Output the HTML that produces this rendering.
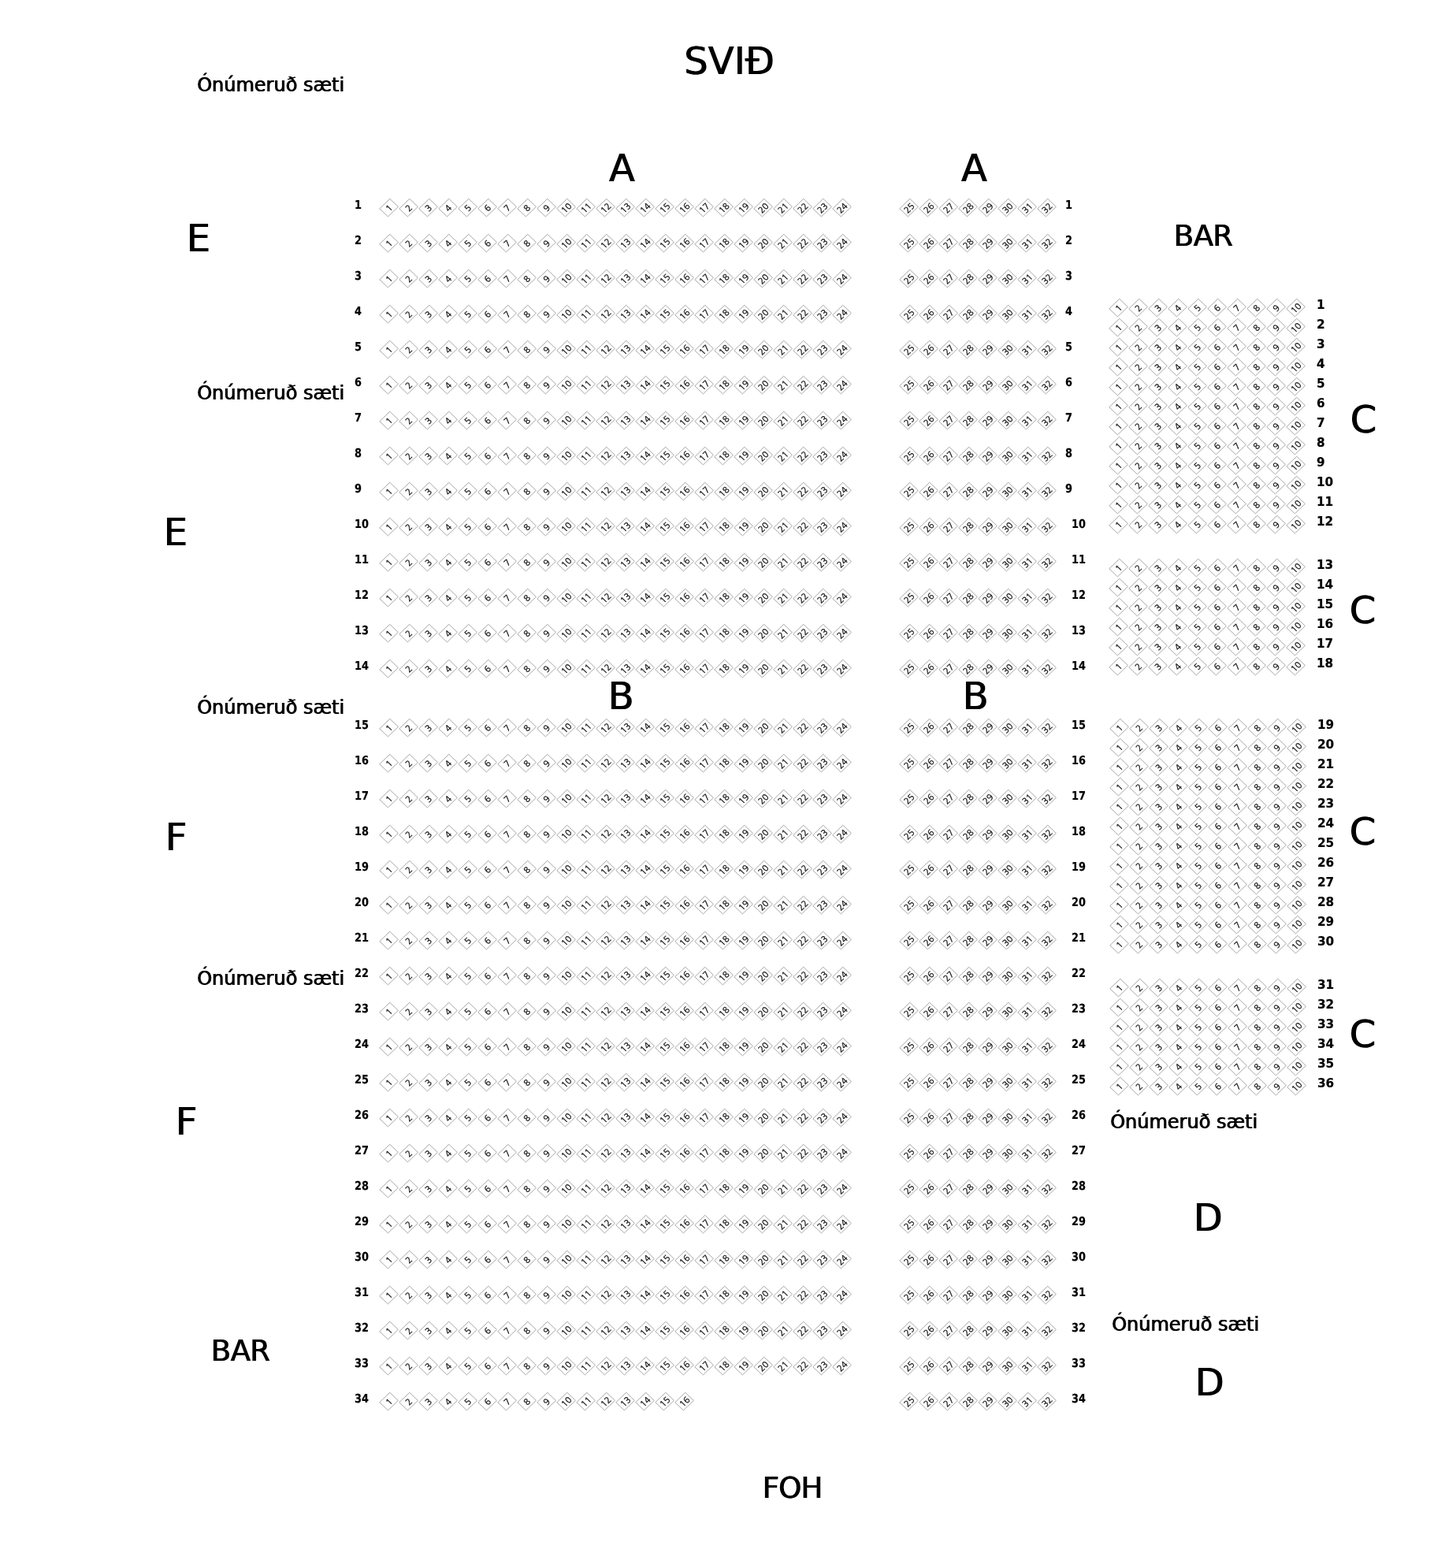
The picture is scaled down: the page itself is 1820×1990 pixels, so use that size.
<!DOCTYPE html>
<html lang="is"><head><meta charset="utf-8"><title>Sætaskipan</title>
<style>
html,body{margin:0;padding:0;background:#fff}
body{width:1820px;height:1990px;position:relative;overflow:hidden;font-family:"DejaVu Sans","Liberation Sans",sans-serif;color:#000}
#w{position:absolute;left:0;top:0;width:1820px;height:1990px;will-change:transform}
.t{position:absolute;white-space:nowrap;line-height:1;text-shadow:1px 0 0 #000;}
.r{position:absolute;left:0;height:0;white-space:nowrap}
.r i{position:absolute;top:0;display:block;box-sizing:border-box;width:23.38px;height:19px;margin:-9.5px 0 0 -11.69px;border:1px solid #999;transform:scale(1.042,1) rotate(-45deg) scale(0.8);font-family:NanumGothic,"Liberation Sans","DejaVu Sans",sans-serif;font-style:normal;font-size:13.12px;line-height:19.5px;text-align:center;color:#222;letter-spacing:0px;-webkit-text-stroke:0.5px #222;text-indent:-0.88px;}
.n{position:absolute;font-weight:bold;line-height:1;white-space:nowrap;-webkit-text-stroke:.2px #000}
.m{font-size:15px;text-rendering:geometricPrecision;transform:scaleX(0.86);transform-origin:0 0}
.c{font-size:16px;transform:scaleX(.95);transform-origin:0 0}
</style></head><body><div id="w">
<div class="t" style="left:867.84px;top:53px;font-size:48px">SVIÐ</div>
<div class="t" style="left:249.65px;top:96px;font-size:24px">Ónúmeruð sæti</div>
<div class="t" style="left:249.65px;top:487px;font-size:24px">Ónúmeruð sæti</div>
<div class="t" style="left:249.65px;top:886px;font-size:24px">Ónúmeruð sæti</div>
<div class="t" style="left:249.65px;top:1230px;font-size:24px">Ónúmeruð sæti</div>
<div class="t" style="left:1408.65px;top:1412px;font-size:24px">Ónúmeruð sæti</div>
<div class="t" style="left:1410.65px;top:1669px;font-size:24px">Ónúmeruð sæti</div>
<div class="t" style="left:772.62px;top:189px;font-size:48px">A</div>
<div class="t" style="left:1219.62px;top:189px;font-size:48px">A</div>
<div class="t" style="left:771.29px;top:859px;font-size:48px">B</div>
<div class="t" style="left:1221.29px;top:859px;font-size:48px">B</div>
<div class="t" style="left:236.29px;top:278px;font-size:48px">E</div>
<div class="t" style="left:207.29px;top:651px;font-size:48px">E</div>
<div class="t" style="left:209.29px;top:1038px;font-size:48px">F</div>
<div class="t" style="left:222.29px;top:1399px;font-size:48px">F</div>
<div class="t" style="left:1489.37px;top:281px;font-size:37px;letter-spacing:-0.6px">BAR</div>
<div class="t" style="left:267.37px;top:1696px;font-size:37px;letter-spacing:-0.6px">BAR</div>
<div class="t" style="left:967.37px;top:1870px;font-size:37px;letter-spacing:-0.9px">FOH</div>
<div class="t" style="left:1713.3px;top:508px;font-size:48px">C</div>
<div class="t" style="left:1712.3px;top:750px;font-size:48px">C</div>
<div class="t" style="left:1712.3px;top:1031px;font-size:48px">C</div>
<div class="t" style="left:1712.3px;top:1288px;font-size:48px">C</div>
<div class="t" style="left:1514.29px;top:1521px;font-size:48px">D</div>
<div class="t" style="left:1516.29px;top:1730px;font-size:48px">D</div>
<div class="n m" style="left:449.5px;top:253px">1</div><div class="r" style="top:263.83px"><i style="left:493.34px">1</i><i style="left:518.34px">2</i><i style="left:543.34px">3</i><i style="left:568.34px">4</i><i style="left:593.34px">5</i><i style="left:618.34px">6</i><i style="left:643.34px">7</i><i style="left:668.34px">8</i><i style="left:693.34px">9</i><i style="left:718.34px">10</i><i style="left:743.34px">11</i><i style="left:768.34px">12</i><i style="left:793.34px">13</i><i style="left:818.34px">14</i><i style="left:843.34px">15</i><i style="left:868.34px">16</i><i style="left:893.34px">17</i><i style="left:918.34px">18</i><i style="left:943.34px">19</i><i style="left:968.34px">20</i><i style="left:993.34px">21</i><i style="left:1018.34px">22</i><i style="left:1043.34px">23</i><i style="left:1068.34px">24</i><i style="left:1153.4px">25</i><i style="left:1178.4px">26</i><i style="left:1203.4px">27</i><i style="left:1228.4px">28</i><i style="left:1253.4px">29</i><i style="left:1278.4px">30</i><i style="left:1303.4px">31</i><i style="left:1328.4px">32</i></div><div class="n m" style="left:1351.6px;top:253px">1</div>
<div class="n m" style="left:449.5px;top:298px">2</div><div class="r" style="top:308.83px"><i style="left:493.34px">1</i><i style="left:518.34px">2</i><i style="left:543.34px">3</i><i style="left:568.34px">4</i><i style="left:593.34px">5</i><i style="left:618.34px">6</i><i style="left:643.34px">7</i><i style="left:668.34px">8</i><i style="left:693.34px">9</i><i style="left:718.34px">10</i><i style="left:743.34px">11</i><i style="left:768.34px">12</i><i style="left:793.34px">13</i><i style="left:818.34px">14</i><i style="left:843.34px">15</i><i style="left:868.34px">16</i><i style="left:893.34px">17</i><i style="left:918.34px">18</i><i style="left:943.34px">19</i><i style="left:968.34px">20</i><i style="left:993.34px">21</i><i style="left:1018.34px">22</i><i style="left:1043.34px">23</i><i style="left:1068.34px">24</i><i style="left:1153.4px">25</i><i style="left:1178.4px">26</i><i style="left:1203.4px">27</i><i style="left:1228.4px">28</i><i style="left:1253.4px">29</i><i style="left:1278.4px">30</i><i style="left:1303.4px">31</i><i style="left:1328.4px">32</i></div><div class="n m" style="left:1351.6px;top:298px">2</div>
<div class="n m" style="left:449.5px;top:343px">3</div><div class="r" style="top:353.83px"><i style="left:493.34px">1</i><i style="left:518.34px">2</i><i style="left:543.34px">3</i><i style="left:568.34px">4</i><i style="left:593.34px">5</i><i style="left:618.34px">6</i><i style="left:643.34px">7</i><i style="left:668.34px">8</i><i style="left:693.34px">9</i><i style="left:718.34px">10</i><i style="left:743.34px">11</i><i style="left:768.34px">12</i><i style="left:793.34px">13</i><i style="left:818.34px">14</i><i style="left:843.34px">15</i><i style="left:868.34px">16</i><i style="left:893.34px">17</i><i style="left:918.34px">18</i><i style="left:943.34px">19</i><i style="left:968.34px">20</i><i style="left:993.34px">21</i><i style="left:1018.34px">22</i><i style="left:1043.34px">23</i><i style="left:1068.34px">24</i><i style="left:1153.4px">25</i><i style="left:1178.4px">26</i><i style="left:1203.4px">27</i><i style="left:1228.4px">28</i><i style="left:1253.4px">29</i><i style="left:1278.4px">30</i><i style="left:1303.4px">31</i><i style="left:1328.4px">32</i></div><div class="n m" style="left:1351.6px;top:343px">3</div>
<div class="n m" style="left:449.5px;top:388px">4</div><div class="r" style="top:398.83px"><i style="left:493.34px">1</i><i style="left:518.34px">2</i><i style="left:543.34px">3</i><i style="left:568.34px">4</i><i style="left:593.34px">5</i><i style="left:618.34px">6</i><i style="left:643.34px">7</i><i style="left:668.34px">8</i><i style="left:693.34px">9</i><i style="left:718.34px">10</i><i style="left:743.34px">11</i><i style="left:768.34px">12</i><i style="left:793.34px">13</i><i style="left:818.34px">14</i><i style="left:843.34px">15</i><i style="left:868.34px">16</i><i style="left:893.34px">17</i><i style="left:918.34px">18</i><i style="left:943.34px">19</i><i style="left:968.34px">20</i><i style="left:993.34px">21</i><i style="left:1018.34px">22</i><i style="left:1043.34px">23</i><i style="left:1068.34px">24</i><i style="left:1153.4px">25</i><i style="left:1178.4px">26</i><i style="left:1203.4px">27</i><i style="left:1228.4px">28</i><i style="left:1253.4px">29</i><i style="left:1278.4px">30</i><i style="left:1303.4px">31</i><i style="left:1328.4px">32</i></div><div class="n m" style="left:1351.6px;top:388px">4</div>
<div class="n m" style="left:449.5px;top:433px">5</div><div class="r" style="top:443.83px"><i style="left:493.34px">1</i><i style="left:518.34px">2</i><i style="left:543.34px">3</i><i style="left:568.34px">4</i><i style="left:593.34px">5</i><i style="left:618.34px">6</i><i style="left:643.34px">7</i><i style="left:668.34px">8</i><i style="left:693.34px">9</i><i style="left:718.34px">10</i><i style="left:743.34px">11</i><i style="left:768.34px">12</i><i style="left:793.34px">13</i><i style="left:818.34px">14</i><i style="left:843.34px">15</i><i style="left:868.34px">16</i><i style="left:893.34px">17</i><i style="left:918.34px">18</i><i style="left:943.34px">19</i><i style="left:968.34px">20</i><i style="left:993.34px">21</i><i style="left:1018.34px">22</i><i style="left:1043.34px">23</i><i style="left:1068.34px">24</i><i style="left:1153.4px">25</i><i style="left:1178.4px">26</i><i style="left:1203.4px">27</i><i style="left:1228.4px">28</i><i style="left:1253.4px">29</i><i style="left:1278.4px">30</i><i style="left:1303.4px">31</i><i style="left:1328.4px">32</i></div><div class="n m" style="left:1351.6px;top:433px">5</div>
<div class="n m" style="left:449.5px;top:478px">6</div><div class="r" style="top:488.83px"><i style="left:493.34px">1</i><i style="left:518.34px">2</i><i style="left:543.34px">3</i><i style="left:568.34px">4</i><i style="left:593.34px">5</i><i style="left:618.34px">6</i><i style="left:643.34px">7</i><i style="left:668.34px">8</i><i style="left:693.34px">9</i><i style="left:718.34px">10</i><i style="left:743.34px">11</i><i style="left:768.34px">12</i><i style="left:793.34px">13</i><i style="left:818.34px">14</i><i style="left:843.34px">15</i><i style="left:868.34px">16</i><i style="left:893.34px">17</i><i style="left:918.34px">18</i><i style="left:943.34px">19</i><i style="left:968.34px">20</i><i style="left:993.34px">21</i><i style="left:1018.34px">22</i><i style="left:1043.34px">23</i><i style="left:1068.34px">24</i><i style="left:1153.4px">25</i><i style="left:1178.4px">26</i><i style="left:1203.4px">27</i><i style="left:1228.4px">28</i><i style="left:1253.4px">29</i><i style="left:1278.4px">30</i><i style="left:1303.4px">31</i><i style="left:1328.4px">32</i></div><div class="n m" style="left:1351.6px;top:478px">6</div>
<div class="n m" style="left:449.5px;top:523px">7</div><div class="r" style="top:533.83px"><i style="left:493.34px">1</i><i style="left:518.34px">2</i><i style="left:543.34px">3</i><i style="left:568.34px">4</i><i style="left:593.34px">5</i><i style="left:618.34px">6</i><i style="left:643.34px">7</i><i style="left:668.34px">8</i><i style="left:693.34px">9</i><i style="left:718.34px">10</i><i style="left:743.34px">11</i><i style="left:768.34px">12</i><i style="left:793.34px">13</i><i style="left:818.34px">14</i><i style="left:843.34px">15</i><i style="left:868.34px">16</i><i style="left:893.34px">17</i><i style="left:918.34px">18</i><i style="left:943.34px">19</i><i style="left:968.34px">20</i><i style="left:993.34px">21</i><i style="left:1018.34px">22</i><i style="left:1043.34px">23</i><i style="left:1068.34px">24</i><i style="left:1153.4px">25</i><i style="left:1178.4px">26</i><i style="left:1203.4px">27</i><i style="left:1228.4px">28</i><i style="left:1253.4px">29</i><i style="left:1278.4px">30</i><i style="left:1303.4px">31</i><i style="left:1328.4px">32</i></div><div class="n m" style="left:1351.6px;top:523px">7</div>
<div class="n m" style="left:449.5px;top:568px">8</div><div class="r" style="top:578.83px"><i style="left:493.34px">1</i><i style="left:518.34px">2</i><i style="left:543.34px">3</i><i style="left:568.34px">4</i><i style="left:593.34px">5</i><i style="left:618.34px">6</i><i style="left:643.34px">7</i><i style="left:668.34px">8</i><i style="left:693.34px">9</i><i style="left:718.34px">10</i><i style="left:743.34px">11</i><i style="left:768.34px">12</i><i style="left:793.34px">13</i><i style="left:818.34px">14</i><i style="left:843.34px">15</i><i style="left:868.34px">16</i><i style="left:893.34px">17</i><i style="left:918.34px">18</i><i style="left:943.34px">19</i><i style="left:968.34px">20</i><i style="left:993.34px">21</i><i style="left:1018.34px">22</i><i style="left:1043.34px">23</i><i style="left:1068.34px">24</i><i style="left:1153.4px">25</i><i style="left:1178.4px">26</i><i style="left:1203.4px">27</i><i style="left:1228.4px">28</i><i style="left:1253.4px">29</i><i style="left:1278.4px">30</i><i style="left:1303.4px">31</i><i style="left:1328.4px">32</i></div><div class="n m" style="left:1351.6px;top:568px">8</div>
<div class="n m" style="left:449.5px;top:613px">9</div><div class="r" style="top:623.83px"><i style="left:493.34px">1</i><i style="left:518.34px">2</i><i style="left:543.34px">3</i><i style="left:568.34px">4</i><i style="left:593.34px">5</i><i style="left:618.34px">6</i><i style="left:643.34px">7</i><i style="left:668.34px">8</i><i style="left:693.34px">9</i><i style="left:718.34px">10</i><i style="left:743.34px">11</i><i style="left:768.34px">12</i><i style="left:793.34px">13</i><i style="left:818.34px">14</i><i style="left:843.34px">15</i><i style="left:868.34px">16</i><i style="left:893.34px">17</i><i style="left:918.34px">18</i><i style="left:943.34px">19</i><i style="left:968.34px">20</i><i style="left:993.34px">21</i><i style="left:1018.34px">22</i><i style="left:1043.34px">23</i><i style="left:1068.34px">24</i><i style="left:1153.4px">25</i><i style="left:1178.4px">26</i><i style="left:1203.4px">27</i><i style="left:1228.4px">28</i><i style="left:1253.4px">29</i><i style="left:1278.4px">30</i><i style="left:1303.4px">31</i><i style="left:1328.4px">32</i></div><div class="n m" style="left:1351.6px;top:613px">9</div>
<div class="n m" style="left:449.5px;top:658px">10</div><div class="r" style="top:668.83px"><i style="left:493.34px">1</i><i style="left:518.34px">2</i><i style="left:543.34px">3</i><i style="left:568.34px">4</i><i style="left:593.34px">5</i><i style="left:618.34px">6</i><i style="left:643.34px">7</i><i style="left:668.34px">8</i><i style="left:693.34px">9</i><i style="left:718.34px">10</i><i style="left:743.34px">11</i><i style="left:768.34px">12</i><i style="left:793.34px">13</i><i style="left:818.34px">14</i><i style="left:843.34px">15</i><i style="left:868.34px">16</i><i style="left:893.34px">17</i><i style="left:918.34px">18</i><i style="left:943.34px">19</i><i style="left:968.34px">20</i><i style="left:993.34px">21</i><i style="left:1018.34px">22</i><i style="left:1043.34px">23</i><i style="left:1068.34px">24</i><i style="left:1153.4px">25</i><i style="left:1178.4px">26</i><i style="left:1203.4px">27</i><i style="left:1228.4px">28</i><i style="left:1253.4px">29</i><i style="left:1278.4px">30</i><i style="left:1303.4px">31</i><i style="left:1328.4px">32</i></div><div class="n m" style="left:1360px;top:658px">10</div>
<div class="n m" style="left:449.5px;top:703px">11</div><div class="r" style="top:713.83px"><i style="left:493.34px">1</i><i style="left:518.34px">2</i><i style="left:543.34px">3</i><i style="left:568.34px">4</i><i style="left:593.34px">5</i><i style="left:618.34px">6</i><i style="left:643.34px">7</i><i style="left:668.34px">8</i><i style="left:693.34px">9</i><i style="left:718.34px">10</i><i style="left:743.34px">11</i><i style="left:768.34px">12</i><i style="left:793.34px">13</i><i style="left:818.34px">14</i><i style="left:843.34px">15</i><i style="left:868.34px">16</i><i style="left:893.34px">17</i><i style="left:918.34px">18</i><i style="left:943.34px">19</i><i style="left:968.34px">20</i><i style="left:993.34px">21</i><i style="left:1018.34px">22</i><i style="left:1043.34px">23</i><i style="left:1068.34px">24</i><i style="left:1153.4px">25</i><i style="left:1178.4px">26</i><i style="left:1203.4px">27</i><i style="left:1228.4px">28</i><i style="left:1253.4px">29</i><i style="left:1278.4px">30</i><i style="left:1303.4px">31</i><i style="left:1328.4px">32</i></div><div class="n m" style="left:1360px;top:703px">11</div>
<div class="n m" style="left:449.5px;top:748px">12</div><div class="r" style="top:758.83px"><i style="left:493.34px">1</i><i style="left:518.34px">2</i><i style="left:543.34px">3</i><i style="left:568.34px">4</i><i style="left:593.34px">5</i><i style="left:618.34px">6</i><i style="left:643.34px">7</i><i style="left:668.34px">8</i><i style="left:693.34px">9</i><i style="left:718.34px">10</i><i style="left:743.34px">11</i><i style="left:768.34px">12</i><i style="left:793.34px">13</i><i style="left:818.34px">14</i><i style="left:843.34px">15</i><i style="left:868.34px">16</i><i style="left:893.34px">17</i><i style="left:918.34px">18</i><i style="left:943.34px">19</i><i style="left:968.34px">20</i><i style="left:993.34px">21</i><i style="left:1018.34px">22</i><i style="left:1043.34px">23</i><i style="left:1068.34px">24</i><i style="left:1153.4px">25</i><i style="left:1178.4px">26</i><i style="left:1203.4px">27</i><i style="left:1228.4px">28</i><i style="left:1253.4px">29</i><i style="left:1278.4px">30</i><i style="left:1303.4px">31</i><i style="left:1328.4px">32</i></div><div class="n m" style="left:1360px;top:748px">12</div>
<div class="n m" style="left:449.5px;top:793px">13</div><div class="r" style="top:803.83px"><i style="left:493.34px">1</i><i style="left:518.34px">2</i><i style="left:543.34px">3</i><i style="left:568.34px">4</i><i style="left:593.34px">5</i><i style="left:618.34px">6</i><i style="left:643.34px">7</i><i style="left:668.34px">8</i><i style="left:693.34px">9</i><i style="left:718.34px">10</i><i style="left:743.34px">11</i><i style="left:768.34px">12</i><i style="left:793.34px">13</i><i style="left:818.34px">14</i><i style="left:843.34px">15</i><i style="left:868.34px">16</i><i style="left:893.34px">17</i><i style="left:918.34px">18</i><i style="left:943.34px">19</i><i style="left:968.34px">20</i><i style="left:993.34px">21</i><i style="left:1018.34px">22</i><i style="left:1043.34px">23</i><i style="left:1068.34px">24</i><i style="left:1153.4px">25</i><i style="left:1178.4px">26</i><i style="left:1203.4px">27</i><i style="left:1228.4px">28</i><i style="left:1253.4px">29</i><i style="left:1278.4px">30</i><i style="left:1303.4px">31</i><i style="left:1328.4px">32</i></div><div class="n m" style="left:1360px;top:793px">13</div>
<div class="n m" style="left:449.5px;top:838px">14</div><div class="r" style="top:848.83px"><i style="left:493.34px">1</i><i style="left:518.34px">2</i><i style="left:543.34px">3</i><i style="left:568.34px">4</i><i style="left:593.34px">5</i><i style="left:618.34px">6</i><i style="left:643.34px">7</i><i style="left:668.34px">8</i><i style="left:693.34px">9</i><i style="left:718.34px">10</i><i style="left:743.34px">11</i><i style="left:768.34px">12</i><i style="left:793.34px">13</i><i style="left:818.34px">14</i><i style="left:843.34px">15</i><i style="left:868.34px">16</i><i style="left:893.34px">17</i><i style="left:918.34px">18</i><i style="left:943.34px">19</i><i style="left:968.34px">20</i><i style="left:993.34px">21</i><i style="left:1018.34px">22</i><i style="left:1043.34px">23</i><i style="left:1068.34px">24</i><i style="left:1153.4px">25</i><i style="left:1178.4px">26</i><i style="left:1203.4px">27</i><i style="left:1228.4px">28</i><i style="left:1253.4px">29</i><i style="left:1278.4px">30</i><i style="left:1303.4px">31</i><i style="left:1328.4px">32</i></div><div class="n m" style="left:1360px;top:838px">14</div>
<div class="n m" style="left:449.5px;top:913px">15</div><div class="r" style="top:923.83px"><i style="left:493.34px">1</i><i style="left:518.34px">2</i><i style="left:543.34px">3</i><i style="left:568.34px">4</i><i style="left:593.34px">5</i><i style="left:618.34px">6</i><i style="left:643.34px">7</i><i style="left:668.34px">8</i><i style="left:693.34px">9</i><i style="left:718.34px">10</i><i style="left:743.34px">11</i><i style="left:768.34px">12</i><i style="left:793.34px">13</i><i style="left:818.34px">14</i><i style="left:843.34px">15</i><i style="left:868.34px">16</i><i style="left:893.34px">17</i><i style="left:918.34px">18</i><i style="left:943.34px">19</i><i style="left:968.34px">20</i><i style="left:993.34px">21</i><i style="left:1018.34px">22</i><i style="left:1043.34px">23</i><i style="left:1068.34px">24</i><i style="left:1153.4px">25</i><i style="left:1178.4px">26</i><i style="left:1203.4px">27</i><i style="left:1228.4px">28</i><i style="left:1253.4px">29</i><i style="left:1278.4px">30</i><i style="left:1303.4px">31</i><i style="left:1328.4px">32</i></div><div class="n m" style="left:1360px;top:913px">15</div>
<div class="n m" style="left:449.5px;top:958px">16</div><div class="r" style="top:968.83px"><i style="left:493.34px">1</i><i style="left:518.34px">2</i><i style="left:543.34px">3</i><i style="left:568.34px">4</i><i style="left:593.34px">5</i><i style="left:618.34px">6</i><i style="left:643.34px">7</i><i style="left:668.34px">8</i><i style="left:693.34px">9</i><i style="left:718.34px">10</i><i style="left:743.34px">11</i><i style="left:768.34px">12</i><i style="left:793.34px">13</i><i style="left:818.34px">14</i><i style="left:843.34px">15</i><i style="left:868.34px">16</i><i style="left:893.34px">17</i><i style="left:918.34px">18</i><i style="left:943.34px">19</i><i style="left:968.34px">20</i><i style="left:993.34px">21</i><i style="left:1018.34px">22</i><i style="left:1043.34px">23</i><i style="left:1068.34px">24</i><i style="left:1153.4px">25</i><i style="left:1178.4px">26</i><i style="left:1203.4px">27</i><i style="left:1228.4px">28</i><i style="left:1253.4px">29</i><i style="left:1278.4px">30</i><i style="left:1303.4px">31</i><i style="left:1328.4px">32</i></div><div class="n m" style="left:1360px;top:958px">16</div>
<div class="n m" style="left:449.5px;top:1003px">17</div><div class="r" style="top:1013.83px"><i style="left:493.34px">1</i><i style="left:518.34px">2</i><i style="left:543.34px">3</i><i style="left:568.34px">4</i><i style="left:593.34px">5</i><i style="left:618.34px">6</i><i style="left:643.34px">7</i><i style="left:668.34px">8</i><i style="left:693.34px">9</i><i style="left:718.34px">10</i><i style="left:743.34px">11</i><i style="left:768.34px">12</i><i style="left:793.34px">13</i><i style="left:818.34px">14</i><i style="left:843.34px">15</i><i style="left:868.34px">16</i><i style="left:893.34px">17</i><i style="left:918.34px">18</i><i style="left:943.34px">19</i><i style="left:968.34px">20</i><i style="left:993.34px">21</i><i style="left:1018.34px">22</i><i style="left:1043.34px">23</i><i style="left:1068.34px">24</i><i style="left:1153.4px">25</i><i style="left:1178.4px">26</i><i style="left:1203.4px">27</i><i style="left:1228.4px">28</i><i style="left:1253.4px">29</i><i style="left:1278.4px">30</i><i style="left:1303.4px">31</i><i style="left:1328.4px">32</i></div><div class="n m" style="left:1360px;top:1003px">17</div>
<div class="n m" style="left:449.5px;top:1048px">18</div><div class="r" style="top:1058.83px"><i style="left:493.34px">1</i><i style="left:518.34px">2</i><i style="left:543.34px">3</i><i style="left:568.34px">4</i><i style="left:593.34px">5</i><i style="left:618.34px">6</i><i style="left:643.34px">7</i><i style="left:668.34px">8</i><i style="left:693.34px">9</i><i style="left:718.34px">10</i><i style="left:743.34px">11</i><i style="left:768.34px">12</i><i style="left:793.34px">13</i><i style="left:818.34px">14</i><i style="left:843.34px">15</i><i style="left:868.34px">16</i><i style="left:893.34px">17</i><i style="left:918.34px">18</i><i style="left:943.34px">19</i><i style="left:968.34px">20</i><i style="left:993.34px">21</i><i style="left:1018.34px">22</i><i style="left:1043.34px">23</i><i style="left:1068.34px">24</i><i style="left:1153.4px">25</i><i style="left:1178.4px">26</i><i style="left:1203.4px">27</i><i style="left:1228.4px">28</i><i style="left:1253.4px">29</i><i style="left:1278.4px">30</i><i style="left:1303.4px">31</i><i style="left:1328.4px">32</i></div><div class="n m" style="left:1360px;top:1048px">18</div>
<div class="n m" style="left:449.5px;top:1093px">19</div><div class="r" style="top:1103.83px"><i style="left:493.34px">1</i><i style="left:518.34px">2</i><i style="left:543.34px">3</i><i style="left:568.34px">4</i><i style="left:593.34px">5</i><i style="left:618.34px">6</i><i style="left:643.34px">7</i><i style="left:668.34px">8</i><i style="left:693.34px">9</i><i style="left:718.34px">10</i><i style="left:743.34px">11</i><i style="left:768.34px">12</i><i style="left:793.34px">13</i><i style="left:818.34px">14</i><i style="left:843.34px">15</i><i style="left:868.34px">16</i><i style="left:893.34px">17</i><i style="left:918.34px">18</i><i style="left:943.34px">19</i><i style="left:968.34px">20</i><i style="left:993.34px">21</i><i style="left:1018.34px">22</i><i style="left:1043.34px">23</i><i style="left:1068.34px">24</i><i style="left:1153.4px">25</i><i style="left:1178.4px">26</i><i style="left:1203.4px">27</i><i style="left:1228.4px">28</i><i style="left:1253.4px">29</i><i style="left:1278.4px">30</i><i style="left:1303.4px">31</i><i style="left:1328.4px">32</i></div><div class="n m" style="left:1360px;top:1093px">19</div>
<div class="n m" style="left:449.5px;top:1138px">20</div><div class="r" style="top:1148.83px"><i style="left:493.34px">1</i><i style="left:518.34px">2</i><i style="left:543.34px">3</i><i style="left:568.34px">4</i><i style="left:593.34px">5</i><i style="left:618.34px">6</i><i style="left:643.34px">7</i><i style="left:668.34px">8</i><i style="left:693.34px">9</i><i style="left:718.34px">10</i><i style="left:743.34px">11</i><i style="left:768.34px">12</i><i style="left:793.34px">13</i><i style="left:818.34px">14</i><i style="left:843.34px">15</i><i style="left:868.34px">16</i><i style="left:893.34px">17</i><i style="left:918.34px">18</i><i style="left:943.34px">19</i><i style="left:968.34px">20</i><i style="left:993.34px">21</i><i style="left:1018.34px">22</i><i style="left:1043.34px">23</i><i style="left:1068.34px">24</i><i style="left:1153.4px">25</i><i style="left:1178.4px">26</i><i style="left:1203.4px">27</i><i style="left:1228.4px">28</i><i style="left:1253.4px">29</i><i style="left:1278.4px">30</i><i style="left:1303.4px">31</i><i style="left:1328.4px">32</i></div><div class="n m" style="left:1360px;top:1138px">20</div>
<div class="n m" style="left:449.5px;top:1183px">21</div><div class="r" style="top:1193.83px"><i style="left:493.34px">1</i><i style="left:518.34px">2</i><i style="left:543.34px">3</i><i style="left:568.34px">4</i><i style="left:593.34px">5</i><i style="left:618.34px">6</i><i style="left:643.34px">7</i><i style="left:668.34px">8</i><i style="left:693.34px">9</i><i style="left:718.34px">10</i><i style="left:743.34px">11</i><i style="left:768.34px">12</i><i style="left:793.34px">13</i><i style="left:818.34px">14</i><i style="left:843.34px">15</i><i style="left:868.34px">16</i><i style="left:893.34px">17</i><i style="left:918.34px">18</i><i style="left:943.34px">19</i><i style="left:968.34px">20</i><i style="left:993.34px">21</i><i style="left:1018.34px">22</i><i style="left:1043.34px">23</i><i style="left:1068.34px">24</i><i style="left:1153.4px">25</i><i style="left:1178.4px">26</i><i style="left:1203.4px">27</i><i style="left:1228.4px">28</i><i style="left:1253.4px">29</i><i style="left:1278.4px">30</i><i style="left:1303.4px">31</i><i style="left:1328.4px">32</i></div><div class="n m" style="left:1360px;top:1183px">21</div>
<div class="n m" style="left:449.5px;top:1228px">22</div><div class="r" style="top:1238.83px"><i style="left:493.34px">1</i><i style="left:518.34px">2</i><i style="left:543.34px">3</i><i style="left:568.34px">4</i><i style="left:593.34px">5</i><i style="left:618.34px">6</i><i style="left:643.34px">7</i><i style="left:668.34px">8</i><i style="left:693.34px">9</i><i style="left:718.34px">10</i><i style="left:743.34px">11</i><i style="left:768.34px">12</i><i style="left:793.34px">13</i><i style="left:818.34px">14</i><i style="left:843.34px">15</i><i style="left:868.34px">16</i><i style="left:893.34px">17</i><i style="left:918.34px">18</i><i style="left:943.34px">19</i><i style="left:968.34px">20</i><i style="left:993.34px">21</i><i style="left:1018.34px">22</i><i style="left:1043.34px">23</i><i style="left:1068.34px">24</i><i style="left:1153.4px">25</i><i style="left:1178.4px">26</i><i style="left:1203.4px">27</i><i style="left:1228.4px">28</i><i style="left:1253.4px">29</i><i style="left:1278.4px">30</i><i style="left:1303.4px">31</i><i style="left:1328.4px">32</i></div><div class="n m" style="left:1360px;top:1228px">22</div>
<div class="n m" style="left:449.5px;top:1273px">23</div><div class="r" style="top:1283.83px"><i style="left:493.34px">1</i><i style="left:518.34px">2</i><i style="left:543.34px">3</i><i style="left:568.34px">4</i><i style="left:593.34px">5</i><i style="left:618.34px">6</i><i style="left:643.34px">7</i><i style="left:668.34px">8</i><i style="left:693.34px">9</i><i style="left:718.34px">10</i><i style="left:743.34px">11</i><i style="left:768.34px">12</i><i style="left:793.34px">13</i><i style="left:818.34px">14</i><i style="left:843.34px">15</i><i style="left:868.34px">16</i><i style="left:893.34px">17</i><i style="left:918.34px">18</i><i style="left:943.34px">19</i><i style="left:968.34px">20</i><i style="left:993.34px">21</i><i style="left:1018.34px">22</i><i style="left:1043.34px">23</i><i style="left:1068.34px">24</i><i style="left:1153.4px">25</i><i style="left:1178.4px">26</i><i style="left:1203.4px">27</i><i style="left:1228.4px">28</i><i style="left:1253.4px">29</i><i style="left:1278.4px">30</i><i style="left:1303.4px">31</i><i style="left:1328.4px">32</i></div><div class="n m" style="left:1360px;top:1273px">23</div>
<div class="n m" style="left:449.5px;top:1318px">24</div><div class="r" style="top:1328.83px"><i style="left:493.34px">1</i><i style="left:518.34px">2</i><i style="left:543.34px">3</i><i style="left:568.34px">4</i><i style="left:593.34px">5</i><i style="left:618.34px">6</i><i style="left:643.34px">7</i><i style="left:668.34px">8</i><i style="left:693.34px">9</i><i style="left:718.34px">10</i><i style="left:743.34px">11</i><i style="left:768.34px">12</i><i style="left:793.34px">13</i><i style="left:818.34px">14</i><i style="left:843.34px">15</i><i style="left:868.34px">16</i><i style="left:893.34px">17</i><i style="left:918.34px">18</i><i style="left:943.34px">19</i><i style="left:968.34px">20</i><i style="left:993.34px">21</i><i style="left:1018.34px">22</i><i style="left:1043.34px">23</i><i style="left:1068.34px">24</i><i style="left:1153.4px">25</i><i style="left:1178.4px">26</i><i style="left:1203.4px">27</i><i style="left:1228.4px">28</i><i style="left:1253.4px">29</i><i style="left:1278.4px">30</i><i style="left:1303.4px">31</i><i style="left:1328.4px">32</i></div><div class="n m" style="left:1360px;top:1318px">24</div>
<div class="n m" style="left:449.5px;top:1363px">25</div><div class="r" style="top:1373.83px"><i style="left:493.34px">1</i><i style="left:518.34px">2</i><i style="left:543.34px">3</i><i style="left:568.34px">4</i><i style="left:593.34px">5</i><i style="left:618.34px">6</i><i style="left:643.34px">7</i><i style="left:668.34px">8</i><i style="left:693.34px">9</i><i style="left:718.34px">10</i><i style="left:743.34px">11</i><i style="left:768.34px">12</i><i style="left:793.34px">13</i><i style="left:818.34px">14</i><i style="left:843.34px">15</i><i style="left:868.34px">16</i><i style="left:893.34px">17</i><i style="left:918.34px">18</i><i style="left:943.34px">19</i><i style="left:968.34px">20</i><i style="left:993.34px">21</i><i style="left:1018.34px">22</i><i style="left:1043.34px">23</i><i style="left:1068.34px">24</i><i style="left:1153.4px">25</i><i style="left:1178.4px">26</i><i style="left:1203.4px">27</i><i style="left:1228.4px">28</i><i style="left:1253.4px">29</i><i style="left:1278.4px">30</i><i style="left:1303.4px">31</i><i style="left:1328.4px">32</i></div><div class="n m" style="left:1360px;top:1363px">25</div>
<div class="n m" style="left:449.5px;top:1408px">26</div><div class="r" style="top:1418.83px"><i style="left:493.34px">1</i><i style="left:518.34px">2</i><i style="left:543.34px">3</i><i style="left:568.34px">4</i><i style="left:593.34px">5</i><i style="left:618.34px">6</i><i style="left:643.34px">7</i><i style="left:668.34px">8</i><i style="left:693.34px">9</i><i style="left:718.34px">10</i><i style="left:743.34px">11</i><i style="left:768.34px">12</i><i style="left:793.34px">13</i><i style="left:818.34px">14</i><i style="left:843.34px">15</i><i style="left:868.34px">16</i><i style="left:893.34px">17</i><i style="left:918.34px">18</i><i style="left:943.34px">19</i><i style="left:968.34px">20</i><i style="left:993.34px">21</i><i style="left:1018.34px">22</i><i style="left:1043.34px">23</i><i style="left:1068.34px">24</i><i style="left:1153.4px">25</i><i style="left:1178.4px">26</i><i style="left:1203.4px">27</i><i style="left:1228.4px">28</i><i style="left:1253.4px">29</i><i style="left:1278.4px">30</i><i style="left:1303.4px">31</i><i style="left:1328.4px">32</i></div><div class="n m" style="left:1360px;top:1408px">26</div>
<div class="n m" style="left:449.5px;top:1453px">27</div><div class="r" style="top:1463.83px"><i style="left:493.34px">1</i><i style="left:518.34px">2</i><i style="left:543.34px">3</i><i style="left:568.34px">4</i><i style="left:593.34px">5</i><i style="left:618.34px">6</i><i style="left:643.34px">7</i><i style="left:668.34px">8</i><i style="left:693.34px">9</i><i style="left:718.34px">10</i><i style="left:743.34px">11</i><i style="left:768.34px">12</i><i style="left:793.34px">13</i><i style="left:818.34px">14</i><i style="left:843.34px">15</i><i style="left:868.34px">16</i><i style="left:893.34px">17</i><i style="left:918.34px">18</i><i style="left:943.34px">19</i><i style="left:968.34px">20</i><i style="left:993.34px">21</i><i style="left:1018.34px">22</i><i style="left:1043.34px">23</i><i style="left:1068.34px">24</i><i style="left:1153.4px">25</i><i style="left:1178.4px">26</i><i style="left:1203.4px">27</i><i style="left:1228.4px">28</i><i style="left:1253.4px">29</i><i style="left:1278.4px">30</i><i style="left:1303.4px">31</i><i style="left:1328.4px">32</i></div><div class="n m" style="left:1360px;top:1453px">27</div>
<div class="n m" style="left:449.5px;top:1498px">28</div><div class="r" style="top:1508.83px"><i style="left:493.34px">1</i><i style="left:518.34px">2</i><i style="left:543.34px">3</i><i style="left:568.34px">4</i><i style="left:593.34px">5</i><i style="left:618.34px">6</i><i style="left:643.34px">7</i><i style="left:668.34px">8</i><i style="left:693.34px">9</i><i style="left:718.34px">10</i><i style="left:743.34px">11</i><i style="left:768.34px">12</i><i style="left:793.34px">13</i><i style="left:818.34px">14</i><i style="left:843.34px">15</i><i style="left:868.34px">16</i><i style="left:893.34px">17</i><i style="left:918.34px">18</i><i style="left:943.34px">19</i><i style="left:968.34px">20</i><i style="left:993.34px">21</i><i style="left:1018.34px">22</i><i style="left:1043.34px">23</i><i style="left:1068.34px">24</i><i style="left:1153.4px">25</i><i style="left:1178.4px">26</i><i style="left:1203.4px">27</i><i style="left:1228.4px">28</i><i style="left:1253.4px">29</i><i style="left:1278.4px">30</i><i style="left:1303.4px">31</i><i style="left:1328.4px">32</i></div><div class="n m" style="left:1360px;top:1498px">28</div>
<div class="n m" style="left:449.5px;top:1543px">29</div><div class="r" style="top:1553.83px"><i style="left:493.34px">1</i><i style="left:518.34px">2</i><i style="left:543.34px">3</i><i style="left:568.34px">4</i><i style="left:593.34px">5</i><i style="left:618.34px">6</i><i style="left:643.34px">7</i><i style="left:668.34px">8</i><i style="left:693.34px">9</i><i style="left:718.34px">10</i><i style="left:743.34px">11</i><i style="left:768.34px">12</i><i style="left:793.34px">13</i><i style="left:818.34px">14</i><i style="left:843.34px">15</i><i style="left:868.34px">16</i><i style="left:893.34px">17</i><i style="left:918.34px">18</i><i style="left:943.34px">19</i><i style="left:968.34px">20</i><i style="left:993.34px">21</i><i style="left:1018.34px">22</i><i style="left:1043.34px">23</i><i style="left:1068.34px">24</i><i style="left:1153.4px">25</i><i style="left:1178.4px">26</i><i style="left:1203.4px">27</i><i style="left:1228.4px">28</i><i style="left:1253.4px">29</i><i style="left:1278.4px">30</i><i style="left:1303.4px">31</i><i style="left:1328.4px">32</i></div><div class="n m" style="left:1360px;top:1543px">29</div>
<div class="n m" style="left:449.5px;top:1588px">30</div><div class="r" style="top:1598.83px"><i style="left:493.34px">1</i><i style="left:518.34px">2</i><i style="left:543.34px">3</i><i style="left:568.34px">4</i><i style="left:593.34px">5</i><i style="left:618.34px">6</i><i style="left:643.34px">7</i><i style="left:668.34px">8</i><i style="left:693.34px">9</i><i style="left:718.34px">10</i><i style="left:743.34px">11</i><i style="left:768.34px">12</i><i style="left:793.34px">13</i><i style="left:818.34px">14</i><i style="left:843.34px">15</i><i style="left:868.34px">16</i><i style="left:893.34px">17</i><i style="left:918.34px">18</i><i style="left:943.34px">19</i><i style="left:968.34px">20</i><i style="left:993.34px">21</i><i style="left:1018.34px">22</i><i style="left:1043.34px">23</i><i style="left:1068.34px">24</i><i style="left:1153.4px">25</i><i style="left:1178.4px">26</i><i style="left:1203.4px">27</i><i style="left:1228.4px">28</i><i style="left:1253.4px">29</i><i style="left:1278.4px">30</i><i style="left:1303.4px">31</i><i style="left:1328.4px">32</i></div><div class="n m" style="left:1360px;top:1588px">30</div>
<div class="n m" style="left:449.5px;top:1633px">31</div><div class="r" style="top:1643.83px"><i style="left:493.34px">1</i><i style="left:518.34px">2</i><i style="left:543.34px">3</i><i style="left:568.34px">4</i><i style="left:593.34px">5</i><i style="left:618.34px">6</i><i style="left:643.34px">7</i><i style="left:668.34px">8</i><i style="left:693.34px">9</i><i style="left:718.34px">10</i><i style="left:743.34px">11</i><i style="left:768.34px">12</i><i style="left:793.34px">13</i><i style="left:818.34px">14</i><i style="left:843.34px">15</i><i style="left:868.34px">16</i><i style="left:893.34px">17</i><i style="left:918.34px">18</i><i style="left:943.34px">19</i><i style="left:968.34px">20</i><i style="left:993.34px">21</i><i style="left:1018.34px">22</i><i style="left:1043.34px">23</i><i style="left:1068.34px">24</i><i style="left:1153.4px">25</i><i style="left:1178.4px">26</i><i style="left:1203.4px">27</i><i style="left:1228.4px">28</i><i style="left:1253.4px">29</i><i style="left:1278.4px">30</i><i style="left:1303.4px">31</i><i style="left:1328.4px">32</i></div><div class="n m" style="left:1360px;top:1633px">31</div>
<div class="n m" style="left:449.5px;top:1678px">32</div><div class="r" style="top:1688.83px"><i style="left:493.34px">1</i><i style="left:518.34px">2</i><i style="left:543.34px">3</i><i style="left:568.34px">4</i><i style="left:593.34px">5</i><i style="left:618.34px">6</i><i style="left:643.34px">7</i><i style="left:668.34px">8</i><i style="left:693.34px">9</i><i style="left:718.34px">10</i><i style="left:743.34px">11</i><i style="left:768.34px">12</i><i style="left:793.34px">13</i><i style="left:818.34px">14</i><i style="left:843.34px">15</i><i style="left:868.34px">16</i><i style="left:893.34px">17</i><i style="left:918.34px">18</i><i style="left:943.34px">19</i><i style="left:968.34px">20</i><i style="left:993.34px">21</i><i style="left:1018.34px">22</i><i style="left:1043.34px">23</i><i style="left:1068.34px">24</i><i style="left:1153.4px">25</i><i style="left:1178.4px">26</i><i style="left:1203.4px">27</i><i style="left:1228.4px">28</i><i style="left:1253.4px">29</i><i style="left:1278.4px">30</i><i style="left:1303.4px">31</i><i style="left:1328.4px">32</i></div><div class="n m" style="left:1360px;top:1678px">32</div>
<div class="n m" style="left:449.5px;top:1723px">33</div><div class="r" style="top:1733.83px"><i style="left:493.34px">1</i><i style="left:518.34px">2</i><i style="left:543.34px">3</i><i style="left:568.34px">4</i><i style="left:593.34px">5</i><i style="left:618.34px">6</i><i style="left:643.34px">7</i><i style="left:668.34px">8</i><i style="left:693.34px">9</i><i style="left:718.34px">10</i><i style="left:743.34px">11</i><i style="left:768.34px">12</i><i style="left:793.34px">13</i><i style="left:818.34px">14</i><i style="left:843.34px">15</i><i style="left:868.34px">16</i><i style="left:893.34px">17</i><i style="left:918.34px">18</i><i style="left:943.34px">19</i><i style="left:968.34px">20</i><i style="left:993.34px">21</i><i style="left:1018.34px">22</i><i style="left:1043.34px">23</i><i style="left:1068.34px">24</i><i style="left:1153.4px">25</i><i style="left:1178.4px">26</i><i style="left:1203.4px">27</i><i style="left:1228.4px">28</i><i style="left:1253.4px">29</i><i style="left:1278.4px">30</i><i style="left:1303.4px">31</i><i style="left:1328.4px">32</i></div><div class="n m" style="left:1360px;top:1723px">33</div>
<div class="n m" style="left:449.5px;top:1768px">34</div><div class="r" style="top:1778.83px"><i style="left:493.34px">1</i><i style="left:518.34px">2</i><i style="left:543.34px">3</i><i style="left:568.34px">4</i><i style="left:593.34px">5</i><i style="left:618.34px">6</i><i style="left:643.34px">7</i><i style="left:668.34px">8</i><i style="left:693.34px">9</i><i style="left:718.34px">10</i><i style="left:743.34px">11</i><i style="left:768.34px">12</i><i style="left:793.34px">13</i><i style="left:818.34px">14</i><i style="left:843.34px">15</i><i style="left:868.34px">16</i><i style="left:1153.4px">25</i><i style="left:1178.4px">26</i><i style="left:1203.4px">27</i><i style="left:1228.4px">28</i><i style="left:1253.4px">29</i><i style="left:1278.4px">30</i><i style="left:1303.4px">31</i><i style="left:1328.4px">32</i></div><div class="n m" style="left:1360px;top:1768px">34</div>
<div class="r" style="top:390.83px"><i style="left:1419.4px">1</i><i style="left:1444.4px">2</i><i style="left:1469.4px">3</i><i style="left:1494.4px">4</i><i style="left:1519.4px">5</i><i style="left:1544.4px">6</i><i style="left:1569.4px">7</i><i style="left:1594.4px">8</i><i style="left:1619.4px">9</i><i style="left:1644.4px">10</i></div><div class="n c" style="left:1670.7px;top:379px">1</div>
<div class="r" style="top:415.83px"><i style="left:1419.4px">1</i><i style="left:1444.4px">2</i><i style="left:1469.4px">3</i><i style="left:1494.4px">4</i><i style="left:1519.4px">5</i><i style="left:1544.4px">6</i><i style="left:1569.4px">7</i><i style="left:1594.4px">8</i><i style="left:1619.4px">9</i><i style="left:1644.4px">10</i></div><div class="n c" style="left:1670.7px;top:404px">2</div>
<div class="r" style="top:440.83px"><i style="left:1419.4px">1</i><i style="left:1444.4px">2</i><i style="left:1469.4px">3</i><i style="left:1494.4px">4</i><i style="left:1519.4px">5</i><i style="left:1544.4px">6</i><i style="left:1569.4px">7</i><i style="left:1594.4px">8</i><i style="left:1619.4px">9</i><i style="left:1644.4px">10</i></div><div class="n c" style="left:1670.7px;top:429px">3</div>
<div class="r" style="top:465.83px"><i style="left:1419.4px">1</i><i style="left:1444.4px">2</i><i style="left:1469.4px">3</i><i style="left:1494.4px">4</i><i style="left:1519.4px">5</i><i style="left:1544.4px">6</i><i style="left:1569.4px">7</i><i style="left:1594.4px">8</i><i style="left:1619.4px">9</i><i style="left:1644.4px">10</i></div><div class="n c" style="left:1670.7px;top:454px">4</div>
<div class="r" style="top:490.83px"><i style="left:1419.4px">1</i><i style="left:1444.4px">2</i><i style="left:1469.4px">3</i><i style="left:1494.4px">4</i><i style="left:1519.4px">5</i><i style="left:1544.4px">6</i><i style="left:1569.4px">7</i><i style="left:1594.4px">8</i><i style="left:1619.4px">9</i><i style="left:1644.4px">10</i></div><div class="n c" style="left:1670.7px;top:479px">5</div>
<div class="r" style="top:515.83px"><i style="left:1419.4px">1</i><i style="left:1444.4px">2</i><i style="left:1469.4px">3</i><i style="left:1494.4px">4</i><i style="left:1519.4px">5</i><i style="left:1544.4px">6</i><i style="left:1569.4px">7</i><i style="left:1594.4px">8</i><i style="left:1619.4px">9</i><i style="left:1644.4px">10</i></div><div class="n c" style="left:1670.7px;top:504px">6</div>
<div class="r" style="top:540.83px"><i style="left:1419.4px">1</i><i style="left:1444.4px">2</i><i style="left:1469.4px">3</i><i style="left:1494.4px">4</i><i style="left:1519.4px">5</i><i style="left:1544.4px">6</i><i style="left:1569.4px">7</i><i style="left:1594.4px">8</i><i style="left:1619.4px">9</i><i style="left:1644.4px">10</i></div><div class="n c" style="left:1670.7px;top:529px">7</div>
<div class="r" style="top:565.83px"><i style="left:1419.4px">1</i><i style="left:1444.4px">2</i><i style="left:1469.4px">3</i><i style="left:1494.4px">4</i><i style="left:1519.4px">5</i><i style="left:1544.4px">6</i><i style="left:1569.4px">7</i><i style="left:1594.4px">8</i><i style="left:1619.4px">9</i><i style="left:1644.4px">10</i></div><div class="n c" style="left:1670.7px;top:554px">8</div>
<div class="r" style="top:590.83px"><i style="left:1419.4px">1</i><i style="left:1444.4px">2</i><i style="left:1469.4px">3</i><i style="left:1494.4px">4</i><i style="left:1519.4px">5</i><i style="left:1544.4px">6</i><i style="left:1569.4px">7</i><i style="left:1594.4px">8</i><i style="left:1619.4px">9</i><i style="left:1644.4px">10</i></div><div class="n c" style="left:1670.7px;top:579px">9</div>
<div class="r" style="top:615.83px"><i style="left:1419.4px">1</i><i style="left:1444.4px">2</i><i style="left:1469.4px">3</i><i style="left:1494.4px">4</i><i style="left:1519.4px">5</i><i style="left:1544.4px">6</i><i style="left:1569.4px">7</i><i style="left:1594.4px">8</i><i style="left:1619.4px">9</i><i style="left:1644.4px">10</i></div><div class="n c" style="left:1670.7px;top:604px">10</div>
<div class="r" style="top:640.83px"><i style="left:1419.4px">1</i><i style="left:1444.4px">2</i><i style="left:1469.4px">3</i><i style="left:1494.4px">4</i><i style="left:1519.4px">5</i><i style="left:1544.4px">6</i><i style="left:1569.4px">7</i><i style="left:1594.4px">8</i><i style="left:1619.4px">9</i><i style="left:1644.4px">10</i></div><div class="n c" style="left:1670.7px;top:629px">11</div>
<div class="r" style="top:665.83px"><i style="left:1419.4px">1</i><i style="left:1444.4px">2</i><i style="left:1469.4px">3</i><i style="left:1494.4px">4</i><i style="left:1519.4px">5</i><i style="left:1544.4px">6</i><i style="left:1569.4px">7</i><i style="left:1594.4px">8</i><i style="left:1619.4px">9</i><i style="left:1644.4px">10</i></div><div class="n c" style="left:1670.7px;top:654px">12</div>
<div class="r" style="top:720.83px"><i style="left:1419.4px">1</i><i style="left:1444.4px">2</i><i style="left:1469.4px">3</i><i style="left:1494.4px">4</i><i style="left:1519.4px">5</i><i style="left:1544.4px">6</i><i style="left:1569.4px">7</i><i style="left:1594.4px">8</i><i style="left:1619.4px">9</i><i style="left:1644.4px">10</i></div><div class="n c" style="left:1670.7px;top:709px">13</div>
<div class="r" style="top:745.83px"><i style="left:1419.4px">1</i><i style="left:1444.4px">2</i><i style="left:1469.4px">3</i><i style="left:1494.4px">4</i><i style="left:1519.4px">5</i><i style="left:1544.4px">6</i><i style="left:1569.4px">7</i><i style="left:1594.4px">8</i><i style="left:1619.4px">9</i><i style="left:1644.4px">10</i></div><div class="n c" style="left:1670.7px;top:734px">14</div>
<div class="r" style="top:770.83px"><i style="left:1419.4px">1</i><i style="left:1444.4px">2</i><i style="left:1469.4px">3</i><i style="left:1494.4px">4</i><i style="left:1519.4px">5</i><i style="left:1544.4px">6</i><i style="left:1569.4px">7</i><i style="left:1594.4px">8</i><i style="left:1619.4px">9</i><i style="left:1644.4px">10</i></div><div class="n c" style="left:1670.7px;top:759px">15</div>
<div class="r" style="top:795.83px"><i style="left:1419.4px">1</i><i style="left:1444.4px">2</i><i style="left:1469.4px">3</i><i style="left:1494.4px">4</i><i style="left:1519.4px">5</i><i style="left:1544.4px">6</i><i style="left:1569.4px">7</i><i style="left:1594.4px">8</i><i style="left:1619.4px">9</i><i style="left:1644.4px">10</i></div><div class="n c" style="left:1670.7px;top:784px">16</div>
<div class="r" style="top:820.83px"><i style="left:1419.4px">1</i><i style="left:1444.4px">2</i><i style="left:1469.4px">3</i><i style="left:1494.4px">4</i><i style="left:1519.4px">5</i><i style="left:1544.4px">6</i><i style="left:1569.4px">7</i><i style="left:1594.4px">8</i><i style="left:1619.4px">9</i><i style="left:1644.4px">10</i></div><div class="n c" style="left:1670.7px;top:809px">17</div>
<div class="r" style="top:845.83px"><i style="left:1419.4px">1</i><i style="left:1444.4px">2</i><i style="left:1469.4px">3</i><i style="left:1494.4px">4</i><i style="left:1519.4px">5</i><i style="left:1544.4px">6</i><i style="left:1569.4px">7</i><i style="left:1594.4px">8</i><i style="left:1619.4px">9</i><i style="left:1644.4px">10</i></div><div class="n c" style="left:1670.7px;top:834px">18</div>
<div class="r" style="top:923.83px"><i style="left:1420.4px">1</i><i style="left:1445.4px">2</i><i style="left:1470.4px">3</i><i style="left:1495.4px">4</i><i style="left:1520.4px">5</i><i style="left:1545.4px">6</i><i style="left:1570.4px">7</i><i style="left:1595.4px">8</i><i style="left:1620.4px">9</i><i style="left:1645.4px">10</i></div><div class="n c" style="left:1671.7px;top:912px">19</div>
<div class="r" style="top:948.83px"><i style="left:1420.4px">1</i><i style="left:1445.4px">2</i><i style="left:1470.4px">3</i><i style="left:1495.4px">4</i><i style="left:1520.4px">5</i><i style="left:1545.4px">6</i><i style="left:1570.4px">7</i><i style="left:1595.4px">8</i><i style="left:1620.4px">9</i><i style="left:1645.4px">10</i></div><div class="n c" style="left:1671.7px;top:937px">20</div>
<div class="r" style="top:973.83px"><i style="left:1420.4px">1</i><i style="left:1445.4px">2</i><i style="left:1470.4px">3</i><i style="left:1495.4px">4</i><i style="left:1520.4px">5</i><i style="left:1545.4px">6</i><i style="left:1570.4px">7</i><i style="left:1595.4px">8</i><i style="left:1620.4px">9</i><i style="left:1645.4px">10</i></div><div class="n c" style="left:1671.7px;top:962px">21</div>
<div class="r" style="top:998.83px"><i style="left:1420.4px">1</i><i style="left:1445.4px">2</i><i style="left:1470.4px">3</i><i style="left:1495.4px">4</i><i style="left:1520.4px">5</i><i style="left:1545.4px">6</i><i style="left:1570.4px">7</i><i style="left:1595.4px">8</i><i style="left:1620.4px">9</i><i style="left:1645.4px">10</i></div><div class="n c" style="left:1671.7px;top:987px">22</div>
<div class="r" style="top:1023.83px"><i style="left:1420.4px">1</i><i style="left:1445.4px">2</i><i style="left:1470.4px">3</i><i style="left:1495.4px">4</i><i style="left:1520.4px">5</i><i style="left:1545.4px">6</i><i style="left:1570.4px">7</i><i style="left:1595.4px">8</i><i style="left:1620.4px">9</i><i style="left:1645.4px">10</i></div><div class="n c" style="left:1671.7px;top:1012px">23</div>
<div class="r" style="top:1048.83px"><i style="left:1420.4px">1</i><i style="left:1445.4px">2</i><i style="left:1470.4px">3</i><i style="left:1495.4px">4</i><i style="left:1520.4px">5</i><i style="left:1545.4px">6</i><i style="left:1570.4px">7</i><i style="left:1595.4px">8</i><i style="left:1620.4px">9</i><i style="left:1645.4px">10</i></div><div class="n c" style="left:1671.7px;top:1037px">24</div>
<div class="r" style="top:1073.83px"><i style="left:1420.4px">1</i><i style="left:1445.4px">2</i><i style="left:1470.4px">3</i><i style="left:1495.4px">4</i><i style="left:1520.4px">5</i><i style="left:1545.4px">6</i><i style="left:1570.4px">7</i><i style="left:1595.4px">8</i><i style="left:1620.4px">9</i><i style="left:1645.4px">10</i></div><div class="n c" style="left:1671.7px;top:1062px">25</div>
<div class="r" style="top:1098.83px"><i style="left:1420.4px">1</i><i style="left:1445.4px">2</i><i style="left:1470.4px">3</i><i style="left:1495.4px">4</i><i style="left:1520.4px">5</i><i style="left:1545.4px">6</i><i style="left:1570.4px">7</i><i style="left:1595.4px">8</i><i style="left:1620.4px">9</i><i style="left:1645.4px">10</i></div><div class="n c" style="left:1671.7px;top:1087px">26</div>
<div class="r" style="top:1123.83px"><i style="left:1420.4px">1</i><i style="left:1445.4px">2</i><i style="left:1470.4px">3</i><i style="left:1495.4px">4</i><i style="left:1520.4px">5</i><i style="left:1545.4px">6</i><i style="left:1570.4px">7</i><i style="left:1595.4px">8</i><i style="left:1620.4px">9</i><i style="left:1645.4px">10</i></div><div class="n c" style="left:1671.7px;top:1112px">27</div>
<div class="r" style="top:1148.83px"><i style="left:1420.4px">1</i><i style="left:1445.4px">2</i><i style="left:1470.4px">3</i><i style="left:1495.4px">4</i><i style="left:1520.4px">5</i><i style="left:1545.4px">6</i><i style="left:1570.4px">7</i><i style="left:1595.4px">8</i><i style="left:1620.4px">9</i><i style="left:1645.4px">10</i></div><div class="n c" style="left:1671.7px;top:1137px">28</div>
<div class="r" style="top:1173.83px"><i style="left:1420.4px">1</i><i style="left:1445.4px">2</i><i style="left:1470.4px">3</i><i style="left:1495.4px">4</i><i style="left:1520.4px">5</i><i style="left:1545.4px">6</i><i style="left:1570.4px">7</i><i style="left:1595.4px">8</i><i style="left:1620.4px">9</i><i style="left:1645.4px">10</i></div><div class="n c" style="left:1671.7px;top:1162px">29</div>
<div class="r" style="top:1198.83px"><i style="left:1420.4px">1</i><i style="left:1445.4px">2</i><i style="left:1470.4px">3</i><i style="left:1495.4px">4</i><i style="left:1520.4px">5</i><i style="left:1545.4px">6</i><i style="left:1570.4px">7</i><i style="left:1595.4px">8</i><i style="left:1620.4px">9</i><i style="left:1645.4px">10</i></div><div class="n c" style="left:1671.7px;top:1187px">30</div>
<div class="r" style="top:1253.83px"><i style="left:1420.4px">1</i><i style="left:1445.4px">2</i><i style="left:1470.4px">3</i><i style="left:1495.4px">4</i><i style="left:1520.4px">5</i><i style="left:1545.4px">6</i><i style="left:1570.4px">7</i><i style="left:1595.4px">8</i><i style="left:1620.4px">9</i><i style="left:1645.4px">10</i></div><div class="n c" style="left:1671.7px;top:1242px">31</div>
<div class="r" style="top:1278.83px"><i style="left:1420.4px">1</i><i style="left:1445.4px">2</i><i style="left:1470.4px">3</i><i style="left:1495.4px">4</i><i style="left:1520.4px">5</i><i style="left:1545.4px">6</i><i style="left:1570.4px">7</i><i style="left:1595.4px">8</i><i style="left:1620.4px">9</i><i style="left:1645.4px">10</i></div><div class="n c" style="left:1671.7px;top:1267px">32</div>
<div class="r" style="top:1303.83px"><i style="left:1420.4px">1</i><i style="left:1445.4px">2</i><i style="left:1470.4px">3</i><i style="left:1495.4px">4</i><i style="left:1520.4px">5</i><i style="left:1545.4px">6</i><i style="left:1570.4px">7</i><i style="left:1595.4px">8</i><i style="left:1620.4px">9</i><i style="left:1645.4px">10</i></div><div class="n c" style="left:1671.7px;top:1292px">33</div>
<div class="r" style="top:1328.83px"><i style="left:1420.4px">1</i><i style="left:1445.4px">2</i><i style="left:1470.4px">3</i><i style="left:1495.4px">4</i><i style="left:1520.4px">5</i><i style="left:1545.4px">6</i><i style="left:1570.4px">7</i><i style="left:1595.4px">8</i><i style="left:1620.4px">9</i><i style="left:1645.4px">10</i></div><div class="n c" style="left:1671.7px;top:1317px">34</div>
<div class="r" style="top:1353.83px"><i style="left:1420.4px">1</i><i style="left:1445.4px">2</i><i style="left:1470.4px">3</i><i style="left:1495.4px">4</i><i style="left:1520.4px">5</i><i style="left:1545.4px">6</i><i style="left:1570.4px">7</i><i style="left:1595.4px">8</i><i style="left:1620.4px">9</i><i style="left:1645.4px">10</i></div><div class="n c" style="left:1671.7px;top:1342px">35</div>
<div class="r" style="top:1378.83px"><i style="left:1420.4px">1</i><i style="left:1445.4px">2</i><i style="left:1470.4px">3</i><i style="left:1495.4px">4</i><i style="left:1520.4px">5</i><i style="left:1545.4px">6</i><i style="left:1570.4px">7</i><i style="left:1595.4px">8</i><i style="left:1620.4px">9</i><i style="left:1645.4px">10</i></div><div class="n c" style="left:1671.7px;top:1367px">36</div>
</div></body></html>
